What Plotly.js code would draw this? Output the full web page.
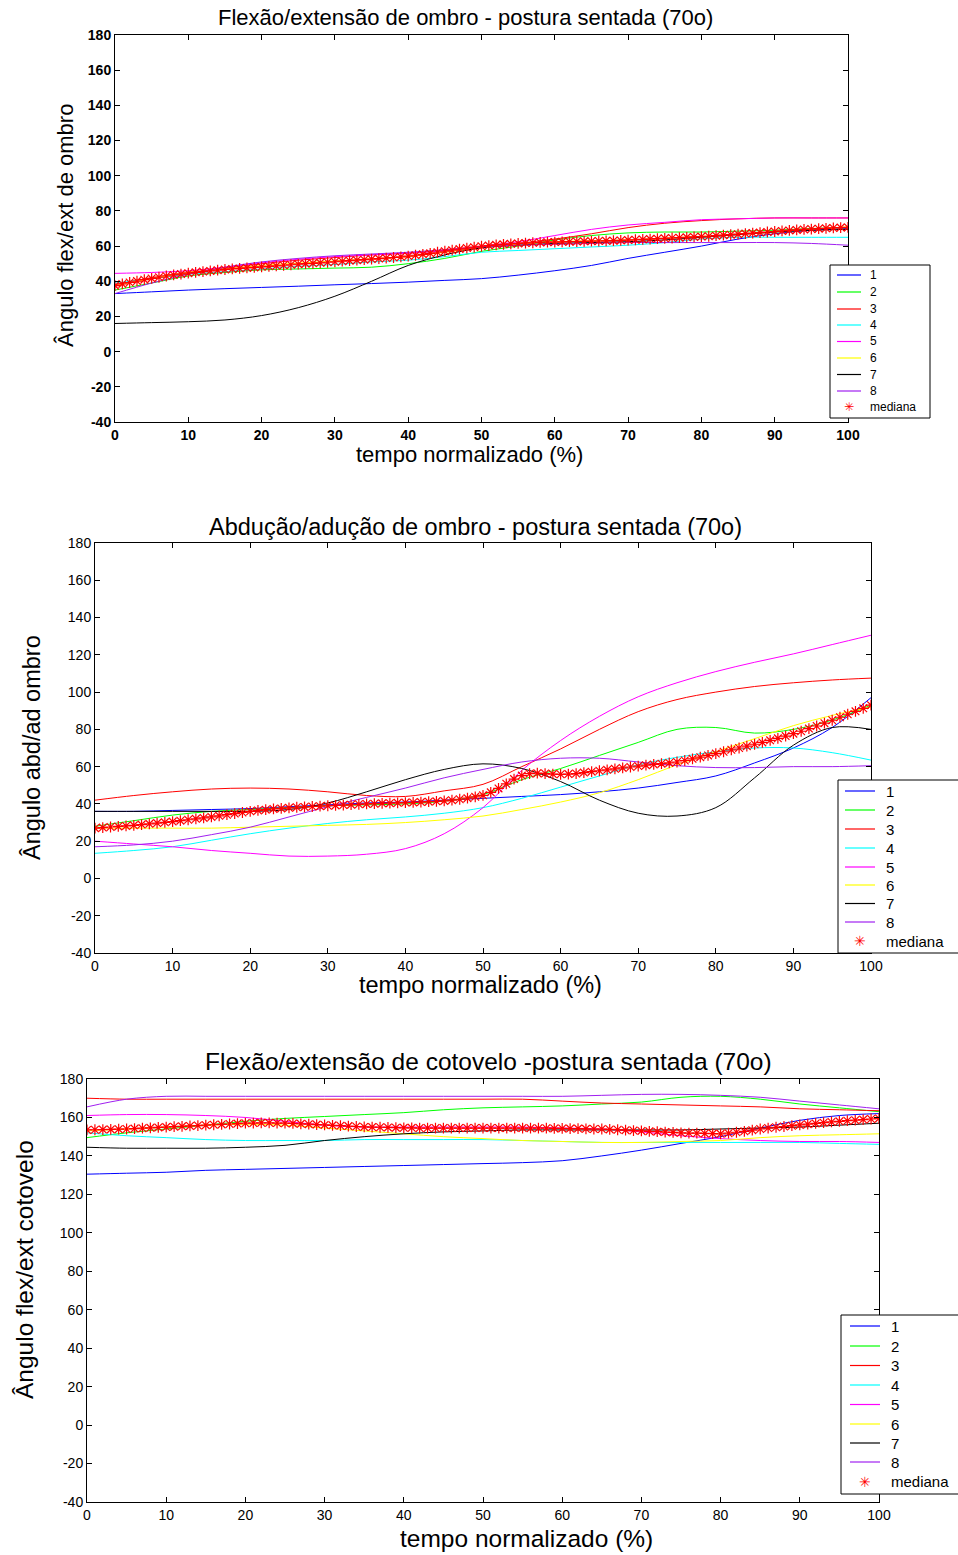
<!DOCTYPE html>
<html><head><meta charset="utf-8">
<script src="https://cdn.plot.ly/plotly-3.0.1.min.js"></script>
<style>body{margin:0;padding:0;background:#fff}#chart{width:958px;height:1555px}</style>
</head><body><div id="chart"></div>
<script>
// ---------- data ----------
const seriesNames = ['1','2','3','4','5','6','7','8'];
const seriesColors = ['#0000ff','#00ff00','#ff0000','#00ffff','#ff00ff','#ffff00','#000000','#a020f0'];
const tempo = [0,5,10,15,20,25,30,35,40,45,50,55,60,65,70,75,80,85,90,95,100];
const xTickVals = [0,10,20,30,40,50,60,70,80,90,100];
const yTickVals = [-40,-20,0,20,40,60,80,100,120,140,160,180];
const yTickText = ['-40','-20','0','20','40','60','80','100','120','140','160','180'];

// Plot 1: Flexão/extensão de ombro
const p1_s1 = [33,34,35,35.8,36.5,37.2,38,38.7,39.5,40.5,41.5,43.5,46,49,53,56.5,60,64,67,69,70];
const p1_s2 = [35,39,43,45,46.5,47,47.5,48,50,53,57,60,63.5,66,67.5,68,68,68.5,69,70,70.5];
const p1_s3 = [38,42,45,47.5,50,52,53.5,55,56,57.5,59.5,61.5,64,67,70.5,73,74.5,75.5,76,76,76];
const p1_s4 = [39,41.5,44,45.5,47,48.5,49.5,51,52,54,56.5,57.5,58.5,59.5,60.5,62,64,65,65,65,65];
const p1_s5 = [44.5,45,46,48,50.5,52.5,54,55,56,57.5,60,62.5,66,69.5,72,73.5,75,75.5,76,76,76];
const p1_s6 = [37.5,41.5,45,47,49,50.3,51.5,52.8,54,56.5,59,61,62.5,63,63.5,64.5,65.5,66.8,68,69.5,71];
const p1_s7 = [16,16.5,17,18,20.5,25,31.5,40,49,55,59,60.5,61.5,62,62.5,63.5,65,66.5,68,69,69.5];
const p1_s8 = [33,39,44,48,51,53,54.5,55.5,56.5,58,59.5,60.5,61,61.5,62,62,62,62,62,61.5,60.5];
const p1_med = [37.5,38.5,39.3,40.1,40.9,41.6,42.3,43,43.6,44.1,44.6,
  45.1,45.5,45.9,46.3,46.7,47,47.3,47.6,47.9,48.2,
  48.5,48.8,49.1,49.4,49.7,50,50.2,50.5,50.8,51.1,
  51.4,51.7,52,52.3,52.6,52.9,53.2,53.5,53.9,54.3,
  54.8,55.3,55.9,56.5,57.1,57.7,58.3,58.9,59.4,59.9,
  60.3,60.7,61,61.3,61.5,61.7,61.9,62.1,62.2,62.3,
  62.4,62.5,62.6,62.7,62.8,62.9,63,63.1,63.2,63.4,
  63.6,63.8,64,64.2,64.4,64.6,64.8,65,65.2,65.4,
  65.6,65.9,66.2,66.5,66.8,67.1,67.4,67.7,68,68.3,
  68.6,68.9,69.2,69.5,69.7,69.9,70.1,70.3,70.5,70.6];

// Plot 2: Abdução/adução de ombro
const p2_s1 = [36,36,36.5,37,37.5,38.5,39.5,40.5,41,42,43,44,45,46.5,48.5,51.5,55,62,70,81,97];
const p2_s2 = [28,31,34,36,37,38,39,39.5,40,41.5,45,53,59,66,73,80,81,78,80,85,93];
const p2_s3 = [42,44.5,46.5,48,48.5,48,46.5,44.5,44,47,50.5,60,69.5,80,89.5,96,100,103,105,106.5,107.5];
const p2_s4 = [13.5,15,17,20.5,24,27,29.5,31.5,33,35,38,43,49,55,61,65,68,70,70,67.5,63.5];
const p2_s5 = [20,18.5,17,15,13.5,12,12,13,16,24,38,58,74,87,97.5,105,111,116,120.5,125.5,130.5];
const p2_s6 = [27,27,27,27,27.5,28,28.5,29,30,31.5,33.5,37,41,46,53,61,68,75,82,87.5,92];
const p2_s7 = [36,36,36,36,36,37,40.5,46.5,53,58.5,61.5,59,52,42,35,33.5,38,54,71.5,81,80];
const p2_s8 = [17,18,20,23.5,27.5,33,38.5,43.5,48.5,54,58.5,62.5,64.5,64.5,62.5,60.5,59.5,59.5,60,60,60.5];
const p2_med = [27,27.3,27.6,27.9,28.2,28.5,28.9,29.3,29.7,30.1,30.5,
  31,31.5,32,32.5,33,33.6,34.2,34.8,35.4,36,
  36.5,36.9,37.3,37.6,37.9,38.2,38.4,38.6,38.8,39,
  39.2,39.4,39.6,39.8,40,40.1,40.3,40.4,40.6,40.7,
  40.8,41,41.2,41.4,41.6,42,42.5,43.1,43.8,44.6,
  46.2,48.3,50.8,53.3,55.2,56.2,56.5,56.3,56,55.9,
  56,56.3,56.8,57.3,57.8,58.3,58.8,59.3,59.8,60.3,
  60.8,61.2,61.6,62,62.5,63.3,64.2,65.1,66,67,
  68,69,70,71,72,73,74.1,75.2,76.4,77.7,
  79,80.4,81.8,83.3,84.9,86.5,88.1,89.7,91.3,93];

// Plot 3: Flexão/extensão de cotovelo
const p3_s1 = [130.5,131,131.5,132.5,133,133.5,134,134.5,135,135.5,136,136.5,137.5,140,143,146.5,150,154.5,158.5,161,162];
const p3_s2 = [149.5,152,154,156,158,159.5,160.5,161.5,162.5,164,165,165.5,166,167,168,170.5,171,169.5,167,165,163];
const p3_s3 = [170,169.5,169.5,169.5,169.5,169.5,169.5,169.5,169.5,169.5,169.5,169.5,168.5,167.5,167,166.5,166,165.5,164.5,164,163.5];
const p3_s4 = [152,150.5,149.5,148.5,148,148,148,148.5,148.5,148.5,148.5,148,147.5,147,147,147,147,147,147,146.5,146];
const p3_s5 = [161,161.5,161.5,161,160,158,156,155,155,155,155,155,154.5,154,152.5,150.5,149,148,147.5,147.5,147];
const p3_s6 = [153,154,155,156,156.5,156,154.5,153,151.5,150,149,148,147.5,147,147,147.5,148,149.5,150.5,151,151.5];
const p3_s7 = [144.5,144,144,144,144.5,145.5,148,150,151.5,152.5,153,153.5,153.5,153.5,153.5,153.5,154,154.5,155,156,157];
const p3_s8 = [165.5,169.5,171,171,171,171,171,171,171,171,171,171,171,171.5,172,172,171.5,170.5,168.5,166.5,164.5];
const p3_med = [153.5,153.6,153.7,153.8,153.9,154,154.2,154.4,154.6,154.8,155,
  155.2,155.4,155.6,155.8,156,156.2,156.4,156.6,156.8,157,
  157.1,157.2,157.2,157.1,157,156.9,156.7,156.5,156.3,156.1,
  155.9,155.7,155.5,155.3,155.1,155,154.9,154.8,154.7,154.6,
  154.6,154.5,154.5,154.5,154.5,154.5,154.5,154.5,154.5,154.5,
  154.5,154.5,154.5,154.5,154.5,154.4,154.4,154.4,154.3,154.3,
  154.2,154.2,154.1,154,154,153.8,153.6,153.4,153.2,153,
  152.8,152.6,152.4,152.2,152,151.9,151.8,151.7,151.6,151.5,
  151.8,152.3,152.8,153.4,154,154.5,154.9,155.3,155.7,156.1,
  156.5,156.9,157.3,157.7,158,158.3,158.6,158.9,159.2,159.5];

const titles = ['Flexão/extensão de ombro - postura sentada (70o)',
                'Abdução/adução de ombro - postura sentada (70o)',
                'Flexão/extensão de cotovelo -postura sentada (70o)'];
const yTitles = ['Ângulo flex/ext de ombro','Ângulo abd/ad ombro','Ângulo flex/ext cotovelo'];
const xTitle = 'tempo normalizado (%)';
const medName = 'mediana';

// ---------- layout config (pixel positions) ----------
const W = 958, H = 1555;
const tempoMed = p1_med.map((_, i) => i);
const plots = [
  {series:[p1_s1,p1_s2,p1_s3,p1_s4,p1_s5,p1_s6,p1_s7,p1_s8], med:p1_med,
   box:[115,848,35,422], tick:{size:14, weight:'bold'}, tfs:22, titleX:465, titleY:18,
   xtX:469, xtY:455, ytX:65, ytY:226,
   leg:{box:[830,930,265,418], rows:[275,292,309,325,341.5,358,374.5,391,407], l0:837, l1:861, tx:868, fs:12, ms:12}},
  {series:[p2_s1,p2_s2,p2_s3,p2_s4,p2_s5,p2_s6,p2_s7,p2_s8], med:p2_med,
   box:[95,871,543,953], tick:{size:14, weight:'normal'}, tfs:23.5, titleX:475, titleY:527,
   xtX:480, xtY:985, ytX:32, ytY:748,
   leg:{box:[838,975,780,953], rows:[791,810,829,848,867,885,903.5,922,941], l0:845, l1:875, tx:884, fs:15, ms:14}},
  {series:[p3_s1,p3_s2,p3_s3,p3_s4,p3_s5,p3_s6,p3_s7,p3_s8], med:p3_med,
   box:[87,879,1079,1502], tick:{size:14, weight:'normal'}, tfs:24.5, titleX:488, titleY:1061,
   xtX:526, xtY:1538, ytX:24, ytY:1270,
   leg:{box:[841,975,1315,1494], rows:[1326,1346,1365.5,1385,1404.5,1424,1443,1462,1481.5], l0:850, l1:880, tx:889, fs:15, ms:14}}
];
const FONT = 'Liberation Sans, Arial, sans-serif';
const traces = [];
const layout = {
  width: W, height: H, margin:{l:0,r:0,t:0,b:0},
  paper_bgcolor:'#fff', plot_bgcolor:'#fff', showlegend:false,
  font:{family:FONT, color:'#000'}, annotations:[], shapes:[]
};
const px = v => v / W, py = v => 1 - v / H;
plots.forEach((p, k) => {
  const n = k === 0 ? '' : String(k+1);
  p.series.forEach((ys, j) => {
    traces.push({x: tempo, y: ys, type:'scatter', mode:'lines', name: seriesNames[j],
      xaxis:'x'+n, yaxis:'y'+n,
      line:{color: seriesColors[j], width:1, shape:'spline', smoothing:1}});
  });
  traces.push({x: tempoMed, y: p.med, type:'scatter', mode:'markers', name: medName,
    xaxis:'x'+n, yaxis:'y'+n,
    marker:{symbol:'asterisk-open', size:9, color:'#ff0000', line:{color:'#ff0000', width:1.2}}});
  const [l, r, t, b] = p.box;
  const axCommon = {showgrid:false, zeroline:false, showline:true, linecolor:'#000', linewidth:1,
    mirror:'ticks', ticks:'inside', ticklen:5, tickcolor:'#000',
    tickfont:{family:FONT, size:p.tick.size, weight:p.tick.weight, color:'#000'}};
  layout['xaxis'+n] = Object.assign({}, axCommon, {domain:[px(l), px(r)], range:[0,100],
    tickmode:'array', tickvals:xTickVals, anchor:'y'+n});
  layout['yaxis'+n] = Object.assign({}, axCommon, {domain:[py(b), py(t)], range:[-40,180],
    tickmode:'array', tickvals:yTickVals, ticktext:yTickText, anchor:'x'+n});
  const tf = {family:FONT, size:p.tfs, color:'#000'};
  layout.annotations.push(
    {text: titles[k], x: px(p.titleX), y: py(p.titleY), xref:'paper', yref:'paper', showarrow:false,
     xanchor:'center', yanchor:'middle', font:tf},
    {text: xTitle, x: px(p.xtX), y: py(p.xtY), xref:'paper', yref:'paper', showarrow:false,
     xanchor:'center', yanchor:'middle', font:tf},
    {text: yTitles[k], x: px(p.ytX), y: py(p.ytY), xref:'paper', yref:'paper', showarrow:false,
     textangle:-90, xanchor:'center', yanchor:'middle', font:tf}
  );
  // legend box
  const L = p.leg;
  layout.shapes.push({type:'rect', xref:'paper', yref:'paper', x0:px(L.box[0]), x1:px(L.box[1]),
    y0:py(L.box[3]), y1:py(L.box[2]), line:{color:'#000', width:1}, fillcolor:'#fff', layer:'above'});
  const entries = seriesNames.concat([medName]);
  entries.forEach((name, j) => {
    const yy = L.rows[j];
    if (j < seriesNames.length) {
      layout.shapes.push({type:'line', xref:'paper', yref:'paper', x0:px(L.l0), x1:px(L.l1),
        y0:py(yy), y1:py(yy), line:{color:seriesColors[j], width:1.2}, layer:'above'});
    } else {
      layout.annotations.push({text:'✳', x:px((L.l0+L.l1)/2), y:py(yy), xref:'paper', yref:'paper',
        showarrow:false, xanchor:'center', yanchor:'middle',
        font:{family:'DejaVu Sans', size:L.ms, color:'#ff0000'}});
    }
    layout.annotations.push({text:name, x:px(L.tx), y:py(yy), xref:'paper', yref:'paper',
      showarrow:false, xanchor:'left', yanchor:'middle', font:{family:FONT, size:L.fs, color:'#000'}});
  });
});
Plotly.newPlot('chart', traces, layout, {staticPlot:true, displayModeBar:false});
</script></body></html>
